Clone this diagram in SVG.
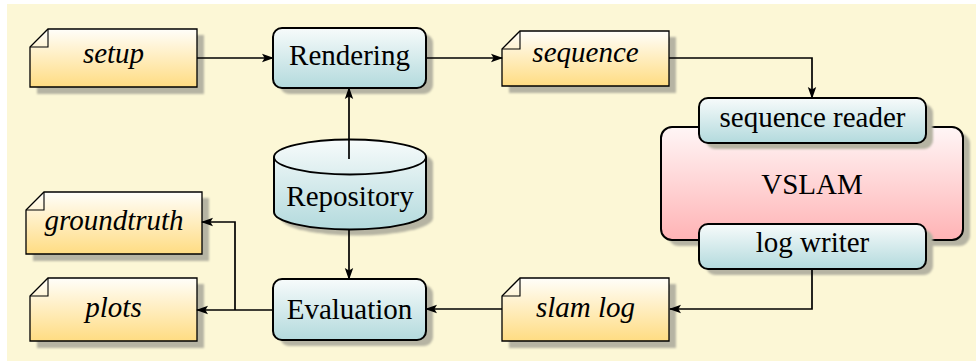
<svg xmlns="http://www.w3.org/2000/svg" width="976" height="362" viewBox="0 0 976 362">
  <defs>
    <linearGradient id="gDoc" x1="0" y1="0" x2="0" y2="1">
      <stop offset="0" stop-color="#fffefa"/>
      <stop offset="1" stop-color="#ffdc82"/>
    </linearGradient>
    <linearGradient id="gBox" x1="0" y1="0" x2="0" y2="1">
      <stop offset="0" stop-color="#f7fbfb"/>
      <stop offset="1" stop-color="#b3dadd"/>
    </linearGradient>
    <linearGradient id="gSlam" x1="0" y1="0" x2="0" y2="1">
      <stop offset="0" stop-color="#fff6f6"/>
      <stop offset="1" stop-color="#ffb3b5"/>
    </linearGradient>
    <filter id="soft" x="-10%" y="-10%" width="120%" height="120%">
      <feGaussianBlur stdDeviation="0.8"/>
    </filter>
    <marker id="arr" viewBox="0 0 12 10" refX="11" refY="5" markerWidth="12" markerHeight="10" markerUnits="userSpaceOnUse" orient="auto">
      <path d="M0,0.8 L12,5 L0,9.2 L2.6,5 Z" fill="#000"/>
    </marker>
    <style>
      .shadow { fill: #b6b4a3; filter: url(#soft); }
      .doc { fill: url(#gDoc); stroke: #000; stroke-width: 1.3; }
      .fold { fill: none; stroke: #000; stroke-width: 1.1; }
      .box { fill: url(#gBox); stroke: #000; stroke-width: 2; }
      .slam { fill: url(#gSlam); stroke: #000; stroke-width: 2; }
      .lbl { font-family: "Liberation Serif", "Times New Roman", serif; font-size: 29px; text-anchor: middle; fill: #000; }
      .it { font-style: italic; }
      .edge { fill: none; stroke: #000; stroke-width: 1.7; marker-end: url(#arr); }
      .plain { fill: none; stroke: #000; stroke-width: 1.7; }
    </style>
  </defs>

  <!-- background panel -->
  <rect x="7" y="4" width="969" height="357" fill="#fcf7d6"/>

  <!-- documents -->
  <g id="setup">
    <path class="shadow" d="M55,35 H204 V94 H37 V53 Z"/>
    <path class="doc" d="M48,29 H197 V87 H30 V47 Z"/>
    <path class="fold" d="M48,29 V47 H30"/>
    <text class="lbl it" x="113.5" y="63">setup</text>
  </g>

  <g id="sequence">
    <path class="shadow" d="M527,37 H676 V93 H509 V55 Z"/>
    <path class="doc" d="M520,31 H669 V86 H502 V49 Z"/>
    <path class="fold" d="M520,31 V49 H502"/>
    <text class="lbl it" x="585.5" y="62">sequence</text>
  </g>

  <g id="groundtruth">
    <path class="shadow" d="M51,198 H209 V261 H33 V216 Z"/>
    <path class="doc" d="M44,192 H202 V254 H26 V210 Z"/>
    <path class="fold" d="M44,192 V210 H26"/>
    <text class="lbl it" x="114" y="230">groundtruth</text>
  </g>

  <g id="plots">
    <path class="shadow" d="M55,284 H204 V348 H37 V302 Z"/>
    <path class="doc" d="M48,278 H197 V341 H30 V296 Z"/>
    <path class="fold" d="M48,278 V296 H30"/>
    <text class="lbl it" x="113.5" y="317">plots</text>
  </g>

  <g id="slamlog">
    <path class="shadow" d="M527,284 H676 V348 H509 V302 Z"/>
    <path class="doc" d="M520,278 H669 V341 H502 V296 Z"/>
    <path class="fold" d="M520,278 V296 H502"/>
    <text class="lbl it" x="585.5" y="317">slam log</text>
  </g>

  <!-- processes -->
  <g id="rendering">
    <rect class="shadow" x="280" y="34" width="153" height="60" rx="9"/>
    <rect class="box" x="273" y="28" width="153" height="60" rx="9"/>
    <text class="lbl" x="349.5" y="65">Rendering</text>
  </g>

  <g id="evaluation">
    <rect class="shadow" x="280" y="285" width="153" height="61" rx="9"/>
    <rect class="box" x="273" y="279" width="153" height="61" rx="9"/>
    <text class="lbl" x="349.5" y="319">Evaluation</text>
  </g>

  <g id="repository">
    <path class="shadow" d="M281,163 A76,17.5 0 0 1 433,163 V218 A76,17.5 0 0 1 281,218 Z"/>
    <path class="box" d="M274,157 A76,17.5 0 0 1 426,157 V212 A76,17.5 0 0 1 274,212 Z"/>
    <path class="fold" style="stroke-width:1.8" d="M274,157 A76,17.5 0 0 0 426,157"/>
    <text class="lbl" x="350" y="206">Repository</text>
  </g>

  <g id="vslam">
    <rect class="shadow" x="668" y="133" width="302" height="113" rx="11"/>
    <rect class="slam" x="661" y="127" width="302" height="113" rx="11"/>
    <text class="lbl" x="812" y="194">VSLAM</text>
  </g>

  <g id="sequence-reader">
    <rect class="shadow" x="706" y="104" width="227" height="45" rx="9"/>
    <rect class="box" x="699" y="98" width="227" height="45" rx="9"/>
    <text class="lbl" x="812.5" y="127">sequence reader</text>
  </g>

  <g id="log-writer">
    <rect class="shadow" x="706" y="230" width="227" height="45" rx="9"/>
    <rect class="box" x="699" y="224" width="227" height="45" rx="9"/>
    <text class="lbl" x="812.5" y="252">log writer</text>
  </g>

  <!-- connectors -->
  <g id="connectors">
    <path class="edge" d="M197,58 H273"/>
    <path class="edge" d="M426,58 H502"/>
    <path class="edge" d="M669,58 H812 V98"/>
    <path class="edge" d="M349,159 V88"/>
    <path class="edge" d="M349,230 V279"/>
    <path class="edge" d="M812,269 V309 H670"/>
    <path class="edge" d="M502,309 H426"/>
    <path class="edge" d="M273,310 H197"/>
    <path class="edge" d="M235,310 V222 H202"/>
  </g>
</svg>
